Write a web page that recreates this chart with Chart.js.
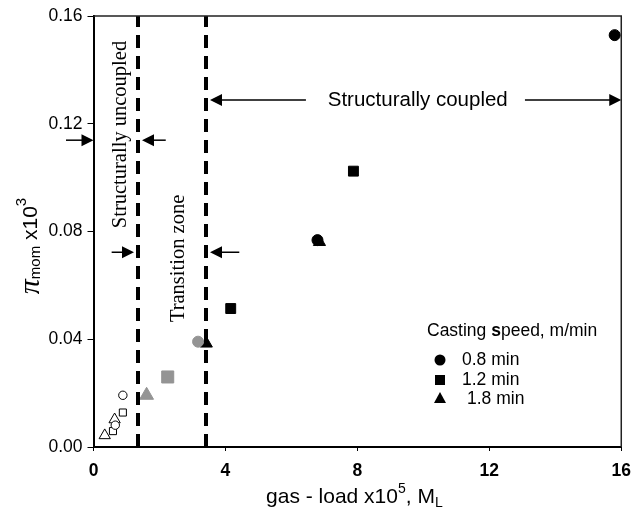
<!DOCTYPE html>
<html>
<head>
<meta charset="utf-8">
<script src="https://cdn.jsdelivr.net/npm/chart.js@4.4.0/dist/chart.umd.min.js"></script>
<style>
    body { margin: 0; background: #fff; }
    #wrap { width: 641px; height: 510px; }
</style>
</head>
<body>
<div id="wrap"><canvas id="myChart"></canvas></div>
<script>
// gas-load x10^5 (x) and pi_mom x10^3 (y), grouped by casting speed and zone
const openCircle = [{x: 0.89, y: 0.0192}, {x: 0.66, y: 0.0081}];
const openSquare = [{x: 0.89, y: 0.0128}, {x: 0.59, y: 0.0059}];
const openTriangle = [{x: 0.64, y: 0.0102}, {x: 0.34, y: 0.0043}];

const grayCircle = [{x: 3.17, y: 0.0391}];
const graySquare = [{x: 2.25, y: 0.0260}];
const grayTriangle = [{x: 1.61, y: 0.0192}];

const blackCircle = [{x: 6.79, y: 0.0768}, {x: 15.8, y: 0.1529}];
const blackSquare = [{x: 4.16, y: 0.0514}, {x: 7.88, y: 0.1024}];
const blackTriangle = [{x: 3.42, y: 0.0384}, {x: 6.85, y: 0.0761}];

// zone boundaries (gas-load)
const boundaries = [1.35, 3.41];

const xTicks = [0, 4, 8, 12, 16];
const yTicks = [0, 0.04, 0.08, 0.12, 0.16];

const legendLabels = ['0.8 min', '1.2 min', '1.8 min'];

const GRAY = '#949494';
const SANS = '"Liberation Sans", Arial, sans-serif';
const SERIF = '"Liberation Serif", "Times New Roman", serif';

function pts(data, style, radius, fill) {
    return {
        type: 'scatter',
        data: data,
        pointStyle: style,
        pointRadius: radius,
        pointHoverRadius: radius,
        pointBackgroundColor: fill,
        pointBorderColor: fill === '#fff' ? '#000' : fill,
        pointBorderWidth: 1,
    };
}

function boundaryLine(x) {
    return {
        type: 'line',
        data: [{x: x, y: yTicks[0]}, {x: x, y: yTicks[yTicks.length - 1]}],
        borderColor: '#000',
        borderWidth: 4,
        borderDash: [13, 8],
        pointRadius: 0,
        fill: false,
    };
}

const datasets = [
    boundaryLine(boundaries[0]),
    boundaryLine(boundaries[1]),
    pts(openCircle, 'circle', 4.2, '#fff'),
    pts(openSquare, 'rect', 5, '#fff'),
    pts(openTriangle, 'triangle', 6.5, '#fff'),
    pts(grayCircle, 'circle', 5.5, GRAY),
    pts(graySquare, 'rect', 8.5, GRAY),
    pts(grayTriangle, 'triangle', 8, GRAY),
    pts(blackCircle, 'circle', 5.5, '#000'),
    pts(blackSquare, 'rect', 7, '#000'),
    pts(blackTriangle, 'triangle', 7, '#000'),
];

function arrow(ctx, x1, y, x2) {
    const dir = x2 > x1 ? 1 : -1;
    ctx.beginPath();
    ctx.moveTo(x1, y);
    ctx.lineTo(x2 - dir * 8, y);
    ctx.lineWidth = 1.5;
    ctx.strokeStyle = '#000';
    ctx.stroke();
    ctx.beginPath();
    ctx.moveTo(x2, y);
    ctx.lineTo(x2 - dir * 12, y - 6);
    ctx.lineTo(x2 - dir * 12, y + 6);
    ctx.closePath();
    ctx.fillStyle = '#000';
    ctx.fill();
}

function richText(ctx, parts, x, y) {
    let w = 0;
    parts.forEach(p => { ctx.font = p[1]; w += ctx.measureText(p[0]).width; });
    let tx = x - w / 2;
    parts.forEach(p => {
        ctx.font = p[1];
        ctx.fillText(p[0], tx, y + p[2]);
        tx += ctx.measureText(p[0]).width;
    });
}

const extras = {
    id: 'extras',
    afterDraw(chart) {
        const ctx = chart.ctx;
        const xs = chart.scales.x;
        const ys = chart.scales.y;
        const a = chart.chartArea;
        const X = v => xs.getPixelForValue(v);
        const Y = v => ys.getPixelForValue(v);
        ctx.save();

        // top and right frame
        ctx.beginPath();
        ctx.moveTo(a.left, a.top);
        ctx.lineTo(a.right, a.top);
        ctx.lineTo(a.right, a.bottom);
        ctx.lineWidth = 1.5;
        ctx.strokeStyle = '#222';
        ctx.stroke();

        // structurally coupled
        const r1 = Y(0.1288);
        arrow(ctx, X(6.44), r1, X(boundaries[1]) + 4);
        arrow(ctx, X(13.08), r1, a.right);
        ctx.fillStyle = '#000';
        ctx.font = '20.5px ' + SANS;
        ctx.textAlign = 'center';
        ctx.textBaseline = 'middle';
        ctx.fillText('Structurally coupled', X(9.83), r1);

        // uncoupled zone arrows
        const r2 = Y(0.1139);
        arrow(ctx, 66, r2, a.left);
        arrow(ctx, X(2.19), r2, X(boundaries[0]) + 4);

        // transition zone arrows
        const r3 = Y(0.0723);
        arrow(ctx, X(0.55), r3, X(boundaries[0]) - 4);
        arrow(ctx, X(4.42), r3, X(boundaries[1]) + 4);

        // vertical zone labels
        ctx.font = '20.5px ' + SERIF;
        ctx.save();
        ctx.translate(X(0.82), Y(0.116));
        ctx.rotate(-Math.PI / 2);
        ctx.fillText('Structurally uncoupled', 0, 0);
        ctx.restore();
        ctx.save();
        ctx.translate(X(2.57), Y(0.070));
        ctx.rotate(-Math.PI / 2);
        ctx.fillText('Transition zone', 0, 0);
        ctx.restore();

        // legend
        ctx.textAlign = 'left';
        const LF = '17.5px ' + SANS;
        ctx.font = LF;
        let lx = 427;
        const ly = 331;
        ctx.fillText('Casting ', lx, ly);
        lx += ctx.measureText('Casting ').width;
        ctx.font = 'bold 17.5px ' + SANS;
        ctx.fillText('s', lx, ly);
        lx += ctx.measureText('s').width;
        ctx.font = LF;
        ctx.fillText('peed, m/min', lx, ly);

        const mx = 440;
        ctx.beginPath();
        ctx.arc(mx, 360, 5.5, 0, Math.PI * 2);
        ctx.fill();
        ctx.fillRect(mx - 5, 375, 10, 10);
        ctx.beginPath();
        ctx.moveTo(mx, 392);
        ctx.lineTo(mx - 6, 403);
        ctx.lineTo(mx + 6, 403);
        ctx.closePath();
        ctx.fill();
        ctx.fillText(legendLabels[0], 462, 360);
        ctx.fillText(legendLabels[1], 462, 380);
        ctx.fillText(legendLabels[2], 467, 399);

        // x axis title
        ctx.textAlign = 'left';
        richText(ctx, [
            ['gas - load x10', '21px ' + SANS, 0],
            ['5', '14px ' + SANS, -8],
            [', M', '21px ' + SANS, 0],
            ['L', '14px ' + SANS, 6],
        ], (a.left + a.right) / 2 - 3, 497);

        // y axis title
        ctx.save();
        ctx.translate(31, 246);
        ctx.rotate(-Math.PI / 2);
        richText(ctx, [
            ['\u03c0', 'italic 30px ' + SERIF, 0],
            ['mom', '15px ' + SANS, 5],
            [' x10', '21px ' + SANS, 0],
            ['3', '15px ' + SANS, -9],
        ], 0, 0);
        ctx.restore();

        ctx.restore();
    }
};

const config = {
    type: 'scatter',
    data: {datasets: datasets},
    options: {
        responsive: true,
        maintainAspectRatio: false,
        animation: false,
        events: [],
        layout: {padding: {top: 16, right: 10, left: 0, bottom: 0}},
        plugins: {
            legend: {display: false},
            tooltip: {enabled: false},
        },
        scales: {
            x: {
                type: 'linear',
                min: xTicks[0],
                max: xTicks[xTicks.length - 1],
                afterBuildTicks: s => { s.ticks = xTicks.map(v => ({value: v})); },
                afterFit: s => { s.height = 63; },
                grid: {drawOnChartArea: false, drawTicks: true, tickLength: 4, color: '#000'},
                border: {display: true, color: '#000', width: 2},
                ticks: {
                    color: '#000',
                    padding: 10,
                    maxRotation: 0,
                    font: {family: SANS, size: 17.5, weight: 'bold'},
                },
            },
            y: {
                type: 'linear',
                min: yTicks[0],
                max: yTicks[yTicks.length - 1],
                afterBuildTicks: s => { s.ticks = yTicks.map(v => ({value: v})); },
                afterFit: s => { s.width = 93.5; },
                grid: {drawOnChartArea: false, drawTicks: true, tickLength: 6, color: '#000'},
                border: {display: true, color: '#000', width: 2},
                ticks: {
                    color: '#000',
                    padding: 5,
                    font: {family: SANS, size: 17.5},
                    callback: v => v.toFixed(2),
                },
            },
        },
    },
    plugins: [extras],
};

const myChart = new Chart(
    document.getElementById('myChart'),
    config
);
</script>
</body>
</html>
